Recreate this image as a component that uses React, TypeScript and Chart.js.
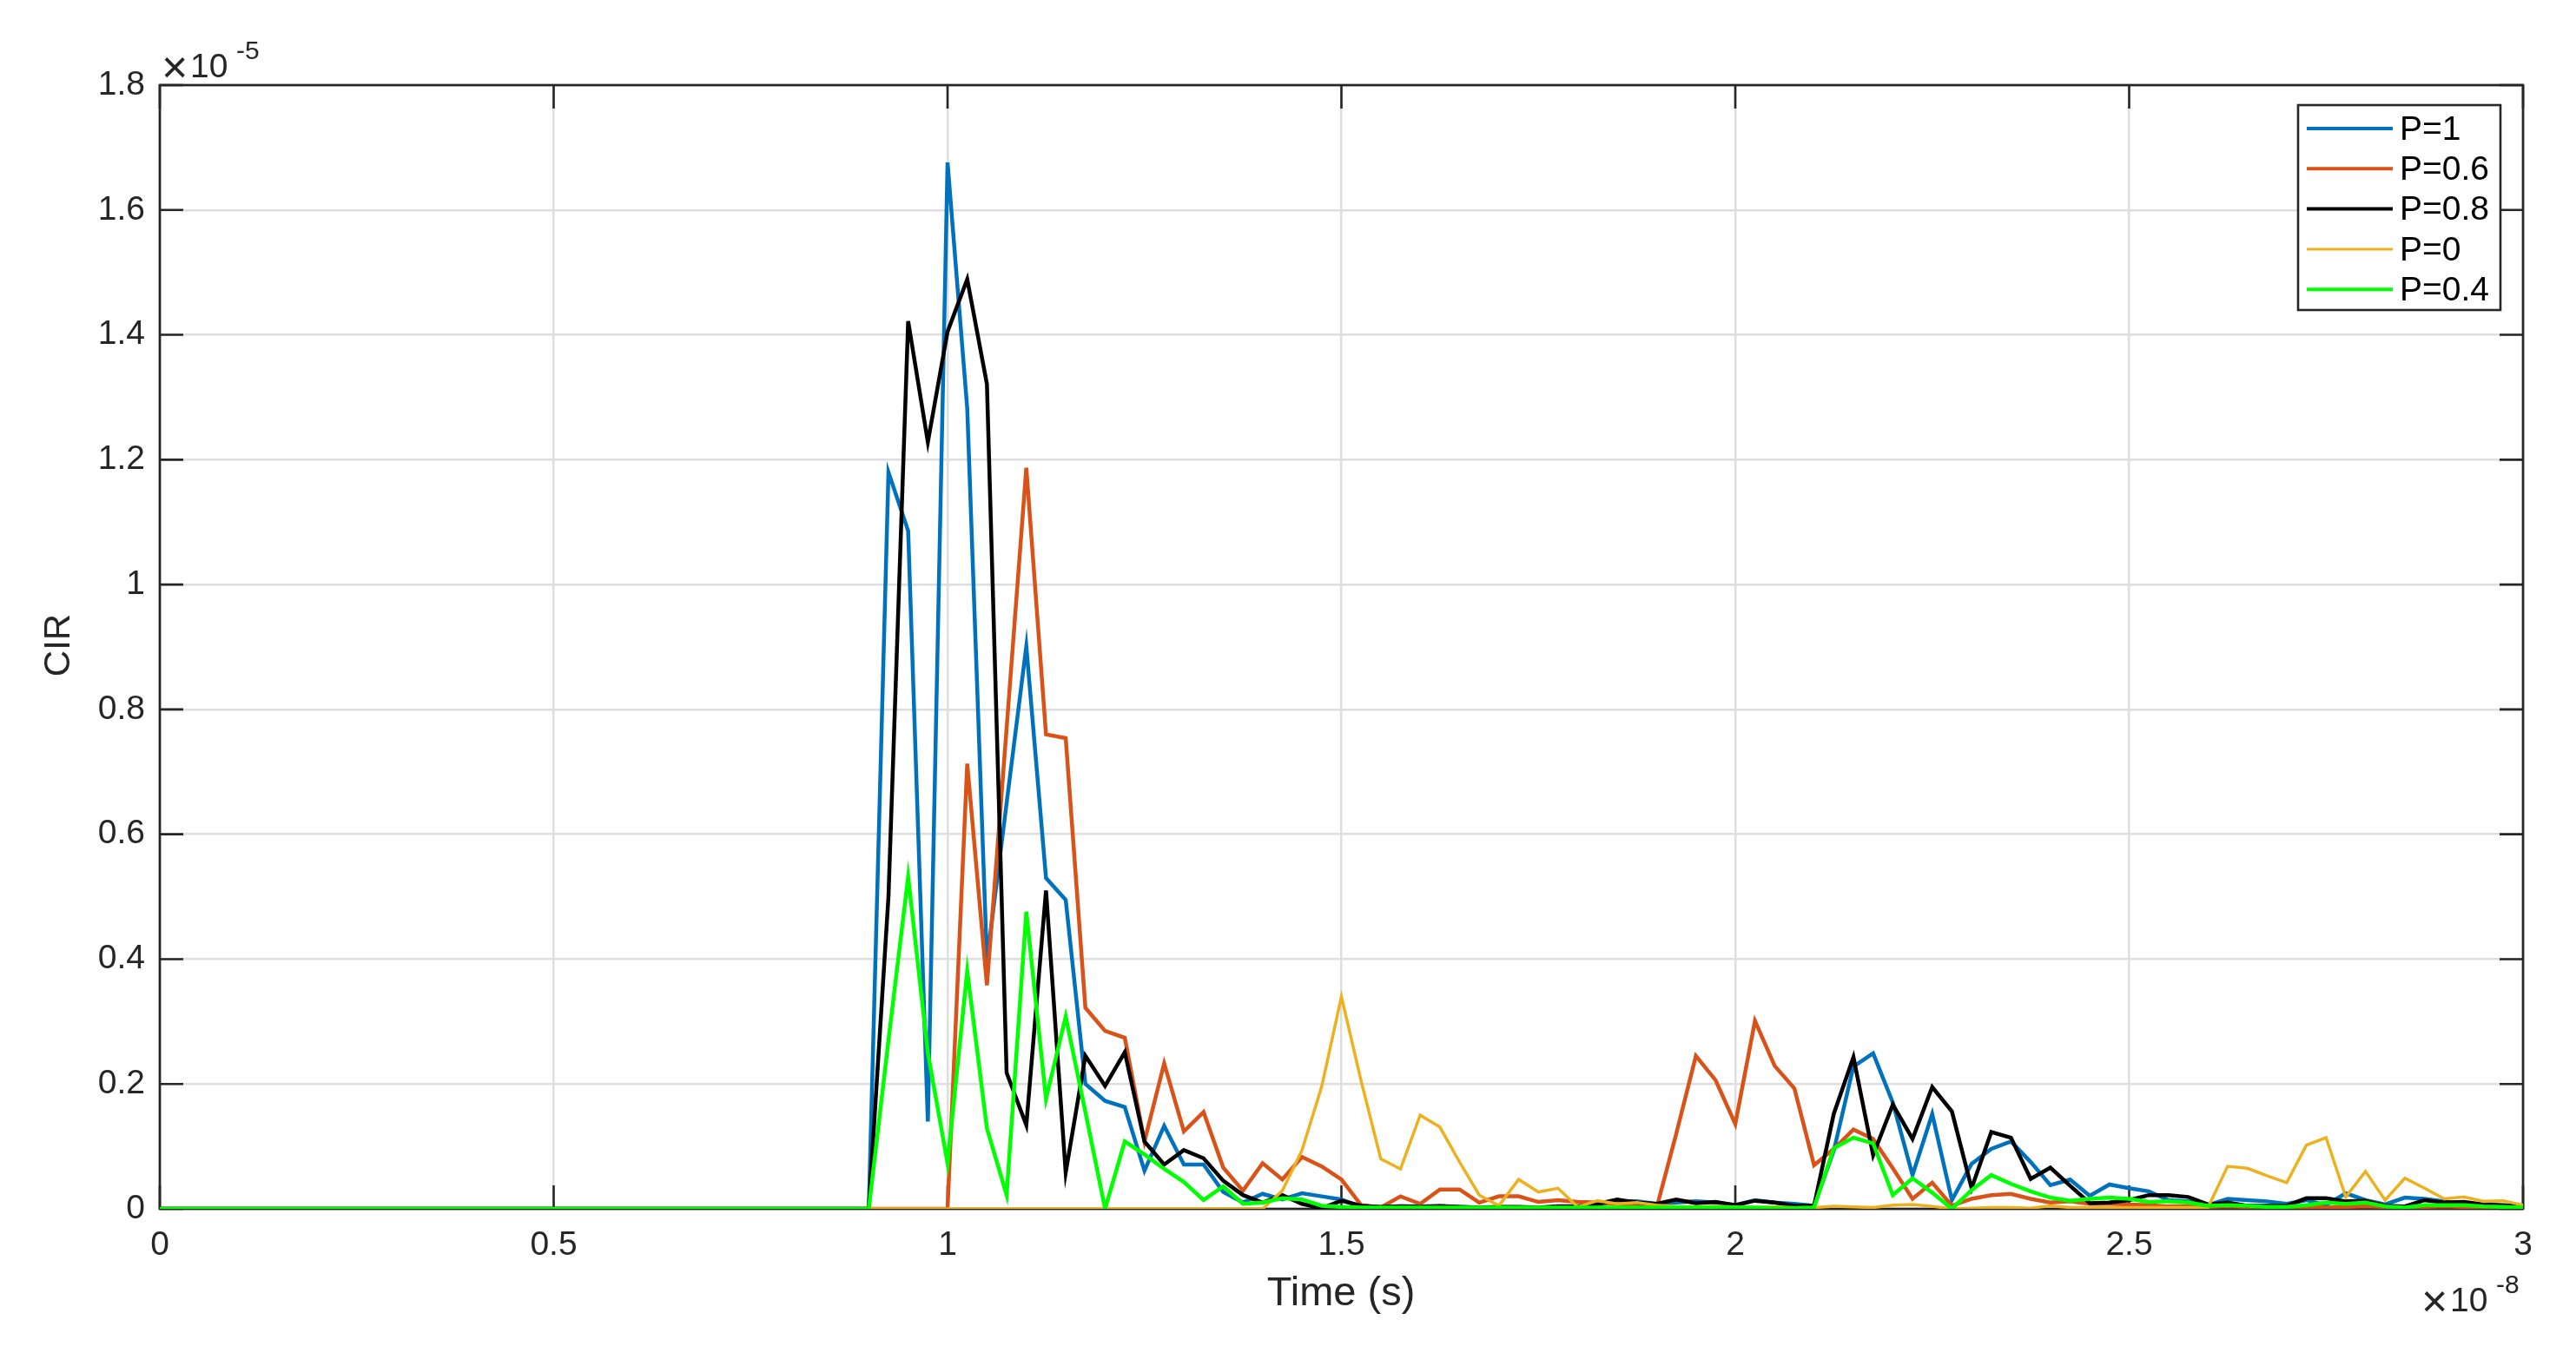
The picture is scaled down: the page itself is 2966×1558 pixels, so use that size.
import { useEffect, useRef } from "react";
import { Chart, registerables } from "chart.js";

Chart.register(...registerables);

// Time axis: samples every 0.025 (x 1e-8 s), 0 .. 3
const T_STEP = 0.025;
const X_TICKS = [0, 0.5, 1, 1.5, 2, 2.5, 3];
const Y_TICKS = [0, 0.2, 0.4, 0.6, 0.8, 1, 1.2, 1.4, 1.6, 1.8];
const SERIES_LABELS = ["P=1", "P=0.6", "P=0.8", "P=0", "P=0.4"];
const SERIES_COLORS = ["#0072BD", "#D95319", "#000000", "#EDB120", "#00FF00"];

// CIR values (x 1e-5)
const P1 = [
  0, 0, 0, 0, 0, 0, 0, 0, 0, 0,
  0, 0, 0, 0, 0, 0, 0, 0, 0, 0,
  0, 0, 0, 0, 0, 0, 0, 0, 0, 0,
  0, 0, 0, 0, 0, 0, 0, 1.18, 1.086, 0.14,
  1.676, 1.282, 0.398, 0.65, 0.901, 0.53, 0.495, 0.2, 0.173, 0.163,
  0.061, 0.133, 0.071, 0.071, 0.027, 0.01, 0.024, 0.015, 0.025, 0.02,
  0.015, 0.003, 0, 0.004, 0.004, 0.005, 0.003, 0.002, 0.002, 0.002,
  0.001, 0.002, 0.003, 0.006, 0.012, 0.012, 0.008, 0.01, 0.012, 0.01,
  0.006, 0.014, 0.01, 0.008, 0.005, 0.093, 0.228, 0.249, 0.17, 0.054,
  0.152, 0.014, 0.072, 0.096, 0.108, 0.075, 0.038, 0.047, 0.021, 0.039,
  0.033, 0.028, 0.014, 0.012, 0.006, 0.016, 0.014, 0.012, 0.008, 0.014,
  0.006, 0.025, 0.014, 0.007, 0.018, 0.016, 0.012, 0.008, 0.007, 0.005,
  0.004,
];

const P06 = [
  0, 0, 0, 0, 0, 0, 0, 0, 0, 0,
  0, 0, 0, 0, 0, 0, 0, 0, 0, 0,
  0, 0, 0, 0, 0, 0, 0, 0, 0, 0,
  0, 0, 0, 0, 0, 0, 0, 0, 0, 0,
  0, 0.713, 0.358, 0.77, 1.187, 0.76, 0.754, 0.322, 0.285, 0.274,
  0.108, 0.233, 0.124, 0.155, 0.066, 0.029, 0.073, 0.047, 0.083, 0.068,
  0.047, 0.006, 0.002, 0.02, 0.008, 0.031, 0.031, 0.01, 0.02, 0.02,
  0.011, 0.014, 0.011, 0.01, 0.008, 0.005, 0.001, 0.12, 0.245, 0.206,
  0.136, 0.301, 0.229, 0.193, 0.07, 0.096, 0.127, 0.112, 0.065, 0.016,
  0.042, 0.005, 0.016, 0.022, 0.024, 0.016, 0.01, 0.012, 0.008, 0.008,
  0.007, 0.006, 0.004, 0.004, 0.003, 0.004, 0.003, 0.004, 0.003, 0.003,
  0.002, 0.003, 0.004, 0.003, 0.002, 0.003, 0.004, 0.003, 0.002, 0.003,
  0.002,
];

const P08 = [
  0, 0, 0, 0, 0, 0, 0, 0, 0, 0,
  0, 0, 0, 0, 0, 0, 0, 0, 0, 0,
  0, 0, 0, 0, 0, 0, 0, 0, 0, 0,
  0, 0, 0, 0, 0, 0, 0, 0.5, 1.422, 1.228,
  1.405, 1.489, 1.321, 0.218, 0.134, 0.51, 0.058, 0.245, 0.197, 0.251,
  0.108, 0.071, 0.094, 0.081, 0.045, 0.022, 0.01, 0.022, 0.008, 0.001,
  0.013, 0.005, 0.003, 0.004, 0.003, 0.004, 0.003, 0.002, 0.003, 0.003,
  0.002, 0.004, 0.004, 0.008, 0.015, 0.01, 0.008, 0.015, 0.009, 0.011,
  0.006, 0.013, 0.01, 0.005, 0.005, 0.152, 0.243, 0.086, 0.167, 0.112,
  0.195, 0.156, 0.033, 0.123, 0.114, 0.048, 0.066, 0.037, 0.009, 0.01,
  0.014, 0.022, 0.022, 0.019, 0.007, 0.01, 0.005, 0.005, 0.005, 0.017,
  0.017, 0.012, 0.013, 0.005, 0.004, 0.014, 0.01, 0.011, 0.007, 0.006,
  0.004,
];

const P0 = [
  0, 0, 0, 0, 0, 0, 0, 0, 0, 0,
  0, 0, 0, 0, 0, 0, 0, 0, 0, 0,
  0, 0, 0, 0, 0, 0, 0, 0, 0, 0,
  0, 0, 0, 0, 0, 0, 0, 0, 0, 0,
  0, 0, 0, 0, 0, 0, 0, 0, 0, 0,
  0, 0, 0, 0, 0, 0, 0, 0.029, 0.094, 0.196,
  0.34, 0.205, 0.08, 0.064, 0.15, 0.131, 0.075, 0.022, 0.005, 0.047,
  0.027, 0.033, 0.003, 0.013, 0.008, 0.01, 0.006, 0.004, 0.003, 0.004,
  0.003, 0.002, 0.003, 0.002, 0.002, 0.004, 0.003, 0.002, 0.006, 0.007,
  0.004, 0, 0.001, 0.002, 0.002, 0.001, 0.005, 0.002, 0.002, 0.002,
  0.002, 0.002, 0.002, 0.002, 0.002, 0.068, 0.065, 0.053, 0.042, 0.102,
  0.114, 0.019, 0.06, 0.014, 0.049, 0.033, 0.016, 0.019, 0.012, 0.013,
  0.006,
];

const P04 = [
  0, 0, 0, 0, 0, 0, 0, 0, 0, 0,
  0, 0, 0, 0, 0, 0, 0, 0, 0, 0,
  0, 0, 0, 0, 0, 0, 0, 0, 0, 0,
  0, 0, 0, 0, 0, 0, 0, 0.27, 0.532, 0.25,
  0.073, 0.381, 0.129, 0.022, 0.476, 0.176, 0.308, 0.155, 0, 0.108,
  0.087, 0.064, 0.043, 0.014, 0.036, 0.008, 0.01, 0.017, 0.015, 0.005,
  0.003, 0.002, 0.002, 0.002, 0.002, 0.002, 0.002, 0.002, 0.002, 0.002,
  0.002, 0.002, 0.002, 0.002, 0.002, 0.002, 0.002, 0.002, 0.002, 0.002,
  0.002, 0.002, 0.001, 0.001, 0.002, 0.097, 0.114, 0.105, 0.022, 0.049,
  0.026, 0, 0.03, 0.054, 0.04, 0.028, 0.018, 0.013, 0.016, 0.018,
  0.016, 0.011, 0.012, 0.01, 0.005, 0.006, 0.005, 0.003, 0.003, 0.006,
  0.01, 0.008, 0.01, 0.004, 0.002, 0.006, 0.006, 0.006, 0.004, 0.003,
  0.002,
];

const SERIES_VALUES = [P1, P06, P08, P0, P04];
const SERIES_WIDTHS = [4.5, 4.5, 4.5, 3.5, 4.5];

const FONT = '"Liberation Sans", Arial, Helvetica, sans-serif';
const TEXT_COLOR = "#262626";
const AXIS_COLOR = "#262626";
const GRID_COLOR = "#dedede";

const fmt = (v: number) => String(Math.round(v * 10) / 10);

const drawExponent = (ctx: any, x: number, baseline: number, exp: string) => {
  ctx.font = `52px ${FONT}`;
  ctx.fillText("\u00d7", x - 4, baseline + 6);
  ctx.font = `39px ${FONT}`;
  ctx.fillText("10", x + 29, baseline);
  ctx.font = `30px ${FONT}`;
  ctx.fillText(exp, x + 82, baseline - 21);
};

const matlabPlugin = {
  id: "matlabAxes",
  beforeDatasetsDraw(chart: any) {
    const { ctx, chartArea } = chart;
    const { left, right, top, bottom } = chartArea;
    const xs = chart.scales.x;
    const ys = chart.scales.y;
    const tl = 27;
    ctx.save();
    ctx.strokeStyle = AXIS_COLOR;
    ctx.lineWidth = 2.6;
    ctx.beginPath();
    X_TICKS.forEach((t) => {
      const px = xs.getPixelForValue(t);
      ctx.moveTo(px, bottom);
      ctx.lineTo(px, bottom - tl);
      ctx.moveTo(px, top);
      ctx.lineTo(px, top + tl);
    });
    Y_TICKS.forEach((t) => {
      const py = ys.getPixelForValue(t);
      ctx.moveTo(left, py);
      ctx.lineTo(left + tl, py);
      ctx.moveTo(right, py);
      ctx.lineTo(right - tl, py);
    });
    ctx.stroke();
    ctx.lineWidth = 2.7;
    ctx.strokeRect(left, top, right - left, bottom - top);
    ctx.restore();
  },
  afterDatasetsDraw(chart: any) {
    const { ctx } = chart;
    // legend box
    const bx = 2646, by = 121, bw = 233, bh = 236;
    ctx.save();
    ctx.fillStyle = "#ffffff";
    ctx.fillRect(bx, by, bw, bh);
    ctx.strokeStyle = AXIS_COLOR;
    ctx.lineWidth = 2.6;
    ctx.strokeRect(bx, by, bw, bh);
    ctx.font = `39px ${FONT}`;
    ctx.textBaseline = "middle";
    ctx.textAlign = "left";
    SERIES_LABELS.forEach((lab, i) => {
      const y = 148 + i * 46.3;
      ctx.strokeStyle = SERIES_COLORS[i];
      ctx.lineWidth = SERIES_WIDTHS[i] - 0.5;
      ctx.beginPath();
      ctx.moveTo(2656, y);
      ctx.lineTo(2755, y);
      ctx.stroke();
      ctx.fillStyle = "#000000";
      ctx.fillText(lab, 2763, y + 2);
    });
    ctx.restore();
  },
  afterDraw(chart: any) {
    const { ctx } = chart;
    ctx.save();
    ctx.fillStyle = TEXT_COLOR;
    ctx.textBaseline = "alphabetic";
    ctx.textAlign = "left";
    drawExponent(ctx, 190, 89, "-5");
    drawExponent(ctx, 2792, 1510, "-8");
    // axis titles
    ctx.font = `47px ${FONT}`;
    ctx.textAlign = "center";
    ctx.textBaseline = "alphabetic";
    ctx.fillText("Time (s)", 1544, 1503);
    ctx.font = `42px ${FONT}`;
    ctx.translate(80, 743);
    ctx.rotate(-Math.PI / 2);
    ctx.fillText("CIR", 0, 0);
    ctx.restore();
  },
};

export default function App() {
  const ref = useRef<HTMLCanvasElement | null>(null);

  useEffect(() => {
    if (!ref.current) return;
    const times = P1.map((_, i) => Math.round(i * T_STEP * 1000) / 1000);
    const datasets = SERIES_LABELS.map((label, k) => ({
      label,
      data: SERIES_VALUES[k].map((v, i) => ({ x: times[i], y: v })),
      borderColor: SERIES_COLORS[k],
      backgroundColor: SERIES_COLORS[k],
      borderWidth: SERIES_WIDTHS[k],
      pointRadius: 0,
      tension: 0,
      fill: false,
      order: SERIES_LABELS.length - k,
    }));

    const chart = new Chart(ref.current, {
      type: "line",
      data: { datasets },
      plugins: [matlabPlugin],
      options: {
        responsive: false,
        animation: false,
        events: [],
        layout: { padding: { top: 98, right: 61, left: 0, bottom: 0 } },
        plugins: {
          legend: { display: false },
          tooltip: { enabled: false },
          title: { display: false },
        },
        scales: {
          x: {
            type: "linear",
            min: 0,
            max: 3,
            afterBuildTicks: (s: any) => {
              s.ticks = X_TICKS.map((v) => ({ value: v }));
            },
            afterFit: (s: any) => {
              s.height = 166;
            },
            ticks: {
              autoSkip: false,
              maxRotation: 0,
              padding: 19,
              color: TEXT_COLOR,
              font: { family: FONT, size: 39 },
              callback: (v: any) => fmt(Number(v)),
            },
            grid: { color: GRID_COLOR, lineWidth: 2.5, drawTicks: false },
            border: { display: false },
          },
          y: {
            type: "linear",
            min: 0,
            max: 1.8,
            afterBuildTicks: (s: any) => {
              s.ticks = Y_TICKS.map((v) => ({ value: v }));
            },
            afterFit: (s: any) => {
              s.width = 184;
            },
            ticks: {
              autoSkip: false,
              padding: 17,
              color: TEXT_COLOR,
              font: { family: FONT, size: 39 },
              callback: (v: any) => fmt(Number(v)),
            },
            grid: { color: GRID_COLOR, lineWidth: 2.5, drawTicks: false },
            border: { display: false },
          },
        },
      },
    });
    return () => chart.destroy();
  }, []);

  return (
    <div style={{ position: "fixed", left: 0, top: 0, width: 2966, height: 1558, background: "#fff" }}>
      <canvas ref={ref} width={2966} height={1558} style={{ display: "block" }} />
    </div>
  );
}
